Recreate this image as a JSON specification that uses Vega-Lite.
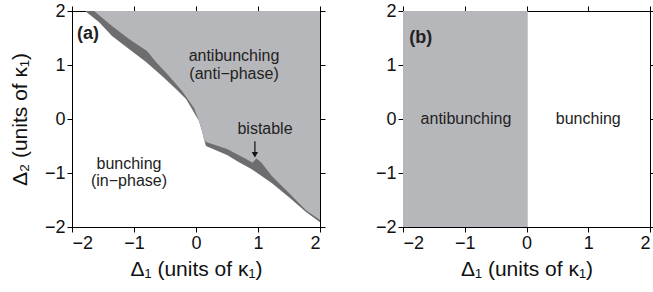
{
  "$schema": "https://vega.github.io/schema/vega-lite/v6.json",
  "padding": {"left": 8, "top": 1, "right": 0, "bottom": 0},
  "background": "white",
  "config": {
    "font": "Liberation Sans",
    "view": {"stroke": "black", "strokeWidth": 1},
    "axis": {
      "grid": false, "domainColor": "black", "tickColor": "black", "tickSize": 5,
      "labelFont": "Liberation Sans", "labelFontSize": 18, "labelColor": "#111",
      "titleFont": "Liberation Sans", "titleFontSize": 21, "titleFontWeight": "normal", "titleColor": "#111",
      "labelPadding": 2, "titlePadding": 6
    }
  },
  "datasets": {
    "boundary": [
      {"edge": "lower", "x": -1.79, "y": 2.0},
      {"edge": "lower", "x": -1.565, "y": 1.796},
      {"edge": "lower", "x": -1.355, "y": 1.537},
      {"edge": "lower", "x": -1.081, "y": 1.296},
      {"edge": "lower", "x": -0.806, "y": 1.056},
      {"edge": "lower", "x": -0.548, "y": 0.796},
      {"edge": "lower", "x": -0.323, "y": 0.556},
      {"edge": "lower", "x": -0.161, "y": 0.37},
      {"edge": "lower", "x": -0.065, "y": 0.185},
      {"edge": "lower", "x": 0.048, "y": -0.037},
      {"edge": "lower", "x": 0.097, "y": -0.222},
      {"edge": "lower", "x": 0.129, "y": -0.37},
      {"edge": "lower", "x": 0.161, "y": -0.5},
      {"edge": "lower", "x": 0.5, "y": -0.667},
      {"edge": "lower", "x": 0.694, "y": -0.8},
      {"edge": "lower", "x": 0.9, "y": -0.93},
      {"edge": "lower", "x": 1.226, "y": -1.19},
      {"edge": "lower", "x": 1.5, "y": -1.45},
      {"edge": "lower", "x": 1.774, "y": -1.72},
      {"edge": "lower", "x": 2.0, "y": -1.91},
      {"edge": "upper", "x": -1.645, "y": 2.0},
      {"edge": "upper", "x": -1.355, "y": 1.722},
      {"edge": "upper", "x": -1.081, "y": 1.481},
      {"edge": "upper", "x": -0.79, "y": 1.259},
      {"edge": "upper", "x": -0.645, "y": 1.056},
      {"edge": "upper", "x": -0.435, "y": 0.796},
      {"edge": "upper", "x": -0.226, "y": 0.519},
      {"edge": "upper", "x": -0.145, "y": 0.389},
      {"edge": "upper", "x": -0.032, "y": 0.204},
      {"edge": "upper", "x": 0.048, "y": -0.037},
      {"edge": "upper", "x": 0.097, "y": -0.222},
      {"edge": "upper", "x": 0.129, "y": -0.37},
      {"edge": "upper", "x": 0.161, "y": -0.426},
      {"edge": "upper", "x": 0.5, "y": -0.556},
      {"edge": "upper", "x": 0.823, "y": -0.75},
      {"edge": "upper", "x": 0.91, "y": -0.81},
      {"edge": "upper", "x": 0.975, "y": -0.73},
      {"edge": "upper", "x": 1.05, "y": -0.8},
      {"edge": "upper", "x": 1.226, "y": -1.06},
      {"edge": "upper", "x": 1.5, "y": -1.37},
      {"edge": "upper", "x": 1.774, "y": -1.69},
      {"edge": "upper", "x": 2.0, "y": -1.87}
    ],
    "labelsA": [
      {"label": "antibunching", "x": 0.613, "y": 1.167},
      {"label": "(anti\u2212phase)", "x": 0.613, "y": 0.833},
      {"label": "bistable", "x": 1.113, "y": -0.185},
      {"label": "bunching", "x": -1.081, "y": -0.833},
      {"label": "(in\u2212phase)", "x": -1.081, "y": -1.148}
    ],
    "arrow": [{"x": 0.95, "y": -0.41, "y2": -0.66}],
    "panelB": [{"x": -2, "x2": 0.02, "y": -2, "y2": 2}],
    "labelsB": [
      {"label": "antibunching", "x": -0.98, "y": 0.0},
      {"label": "bunching", "x": 1.0, "y": 0.0}
    ]
  },
  "spacing": 48,
  "hconcat": [
    {
      "width": 248, "height": 216,
      "resolve": {"axis": {"x": "independent", "y": "independent"}},
      "layer": [
        {
          "data": {"name": "boundary"},
          "transform": [{"filter": "datum.edge === 'lower'"}],
          "mark": {"type": "area", "color": "#6d6d6f", "clip": true},
          "encoding": {
            "x": {"field": "x", "type": "quantitative", "scale": {"domain": [-2, 2], "nice": false, "zero": false},
                  "axis": {"values": [-2, -1, 0, 1, 2], "title": "\u0394\u2081 (units of \u03ba\u2081)", "orient": "bottom"}},
            "y": {"field": "y", "type": "quantitative", "scale": {"domain": [-2, 2], "nice": false, "zero": false},
                  "axis": {"values": [-2, -1, 0, 1, 2], "title": "\u0394\u2082 (units of \u03ba\u2081)", "orient": "left", "titlePadding": 14}},
            "y2": {"datum": 2}
          }
        },
        {
          "data": {"name": "boundary"},
          "transform": [{"filter": "datum.edge === 'upper'"}],
          "mark": {"type": "area", "color": "#b6b7ba", "clip": true},
          "encoding": {
            "x": {"field": "x", "type": "quantitative", "axis": {"values": [-2, -1, 0, 1, 2], "labels": false, "title": null, "orient": "top"}},
            "y": {"field": "y", "type": "quantitative", "axis": {"values": [-2, -1, 0, 1, 2], "labels": false, "title": null, "orient": "right"}},
            "y2": {"datum": 2}
          }
        },
        {
          "data": {"name": "labelsA"},
          "mark": {"type": "text", "fontSize": 16, "color": "#222", "font": "Liberation Sans"},
          "encoding": {
            "x": {"field": "x", "type": "quantitative", "axis": null},
            "y": {"field": "y", "type": "quantitative", "axis": null},
            "text": {"field": "label"}
          }
        },
        {
          "data": {"values": [{"label": "(a)", "x": -1.92, "y": 1.57}]},
          "mark": {"type": "text", "fontSize": 18, "fontWeight": "bold", "align": "left", "color": "#222"},
          "encoding": {
            "x": {"field": "x", "type": "quantitative", "axis": null},
            "y": {"field": "y", "type": "quantitative", "axis": null},
            "text": {"field": "label"}
          }
        },
        {
          "data": {"name": "arrow"},
          "mark": {"type": "rule", "color": "#111", "strokeWidth": 1.2},
          "encoding": {
            "x": {"field": "x", "type": "quantitative", "axis": null},
            "y": {"field": "y", "type": "quantitative", "axis": null},
            "y2": {"field": "y2"}
          }
        },
        {
          "data": {"name": "arrow"},
          "mark": {"type": "point", "shape": "triangle-down", "filled": true, "color": "#111", "size": 40, "opacity": 1},
          "encoding": {
            "x": {"field": "x", "type": "quantitative", "axis": null},
            "y": {"field": "y2", "type": "quantitative", "axis": null}
          }
        }
      ]
    },
    {
      "width": 247, "height": 216,
      "resolve": {"axis": {"x": "independent", "y": "independent"}},
      "layer": [
        {
          "data": {"name": "panelB"},
          "mark": {"type": "rect", "color": "#b6b7ba"},
          "encoding": {
            "x": {"field": "x", "type": "quantitative", "scale": {"domain": [-2, 2], "nice": false, "zero": false},
                  "axis": {"values": [-2, -1, 0, 1, 2], "title": "\u0394\u2081 (units of \u03ba\u2081)", "orient": "bottom"}},
            "x2": {"field": "x2"},
            "y": {"field": "y", "type": "quantitative", "scale": {"domain": [-2, 2], "nice": false, "zero": false},
                  "axis": {"values": [-2, -1, 0, 1, 2], "title": null, "orient": "left"}},
            "y2": {"field": "y2"}
          }
        },
        {
          "data": {"name": "labelsB"},
          "mark": {"type": "text", "fontSize": 16, "color": "#222"},
          "encoding": {
            "x": {"field": "x", "type": "quantitative", "axis": {"values": [-2, -1, 0, 1, 2], "labels": false, "title": null, "orient": "top"}},
            "y": {"field": "y", "type": "quantitative", "axis": {"values": [-2, -1, 0, 1, 2], "labels": false, "title": null, "orient": "right"}},
            "text": {"field": "label"}
          }
        },
        {
          "data": {"values": [{"label": "(b)", "x": -1.9, "y": 1.5}]},
          "mark": {"type": "text", "fontSize": 18, "fontWeight": "bold", "align": "left", "color": "#222"},
          "encoding": {
            "x": {"field": "x", "type": "quantitative", "axis": null},
            "y": {"field": "y", "type": "quantitative", "axis": null},
            "text": {"field": "label"}
          }
        }
      ]
    }
  ]
}
